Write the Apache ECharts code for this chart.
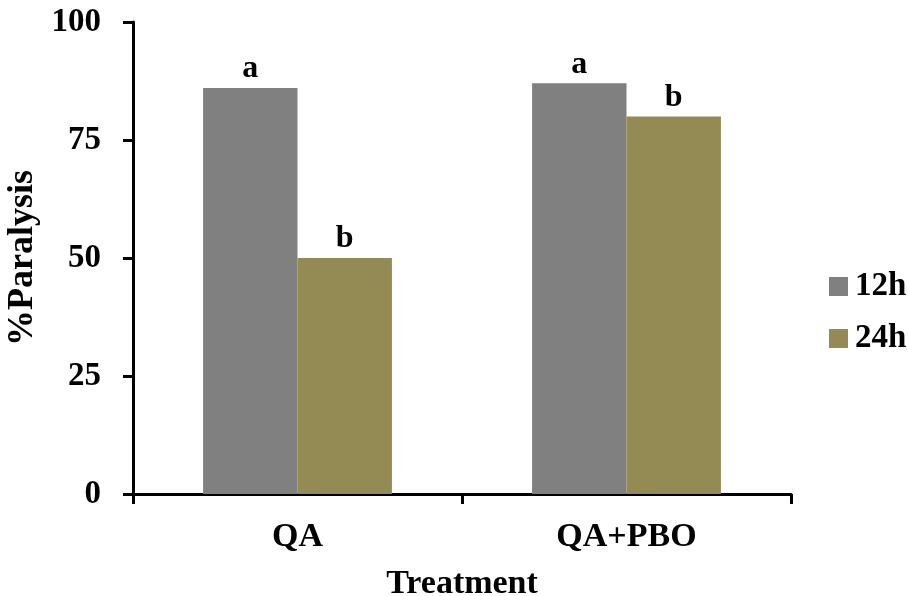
<!DOCTYPE html>
<html>
<head>
<meta charset="utf-8">
<script src="https://cdn.jsdelivr.net/npm/echarts@6/dist/echarts.min.js"></script>
<style>
html,body{margin:0;padding:0;background:#fff;}
#chart{width:908px;height:596px;}
</style>
</head>
<body>
<div id="chart"></div>
<script>
const categories = ['QA', 'QA+PBO'];
const values12h = [86, 87];
const values24h = [50, 80];
const letters12h = ['a', 'a'];
const letters24h = ['b', 'b'];
const yTicks = [0, 25, 50, 75, 100];

const FONT = '"Liberation Serif", "Times New Roman", serif';
const chart = echarts.init(document.getElementById('chart'));

function labelFor(letters) {
  return {
    show: true,
    position: 'top',
    distance: 3,
    formatter: p => letters[p.dataIndex],
    fontFamily: FONT,
    fontWeight: 'bold',
    fontSize: 32,
    color: '#000'
  };
}

chart.setOption({
  animation: false,
  backgroundColor: '#fff',
  grid: { left: 133, right: 117, top: 22, bottom: 102, containLabel: false, outerBoundsMode: 'none' },
  legend: {
    orient: 'vertical',
    left: 824,
    top: 265,
    itemWidth: 19,
    itemHeight: 19,
    itemGap: 19,
    icon: 'rect',
    textStyle: { fontFamily: FONT, fontWeight: 'bold', fontSize: 33, color: '#000', padding: [0,0,0,2] },
    data: ['12h', '24h']
  },
  xAxis: {
    type: 'category',
    data: categories,
    name: 'Treatment',
    nameLocation: 'middle',
    nameGap: 73,
    nameTextStyle: { fontFamily: FONT, fontWeight: 'bold', fontSize: 34, color: '#000' },
    axisLine: { lineStyle: { color: '#000', width: 3 } },
    axisTick: { show: true, length: 10, lineStyle: { color: '#000', width: 3 } },
    axisLabel: { margin: 26, fontFamily: FONT, fontWeight: 'bold', fontSize: 34, color: '#000' }
  },
  yAxis: {
    type: 'value',
    min: 0,
    max: 100,
    interval: 25,
    name: '%Paralysis',
    nameLocation: 'middle',
    nameGap: 91,
    nameRotate: 90,
    nameTextStyle: { fontFamily: FONT, fontWeight: 'bold', fontSize: 36, color: '#000' },
    splitLine: { show: false },
    axisLine: { show: true, lineStyle: { color: '#000', width: 3 } },
    axisTick: { show: true, length: 10, lineStyle: { color: '#000', width: 3 } },
    axisLabel: {
      margin: 32,
      fontFamily: FONT, fontWeight: 'bold', fontSize: 33, color: '#000',
      formatter: v => yTicks.includes(v) ? String(v) : ''
    }
  },
  series: [
    {
      name: '12h', type: 'bar', data: values12h,
      barGap: '0%', barCategoryGap: '42.6%',
      itemStyle: { color: '#808080' },
      label: labelFor(letters12h)
    },
    {
      name: '24h', type: 'bar', data: values24h,
      barGap: '0%', barCategoryGap: '42.6%',
      itemStyle: { color: '#948a54' },
      label: labelFor(letters24h)
    }
  ]
});
</script>
</body>
</html>
